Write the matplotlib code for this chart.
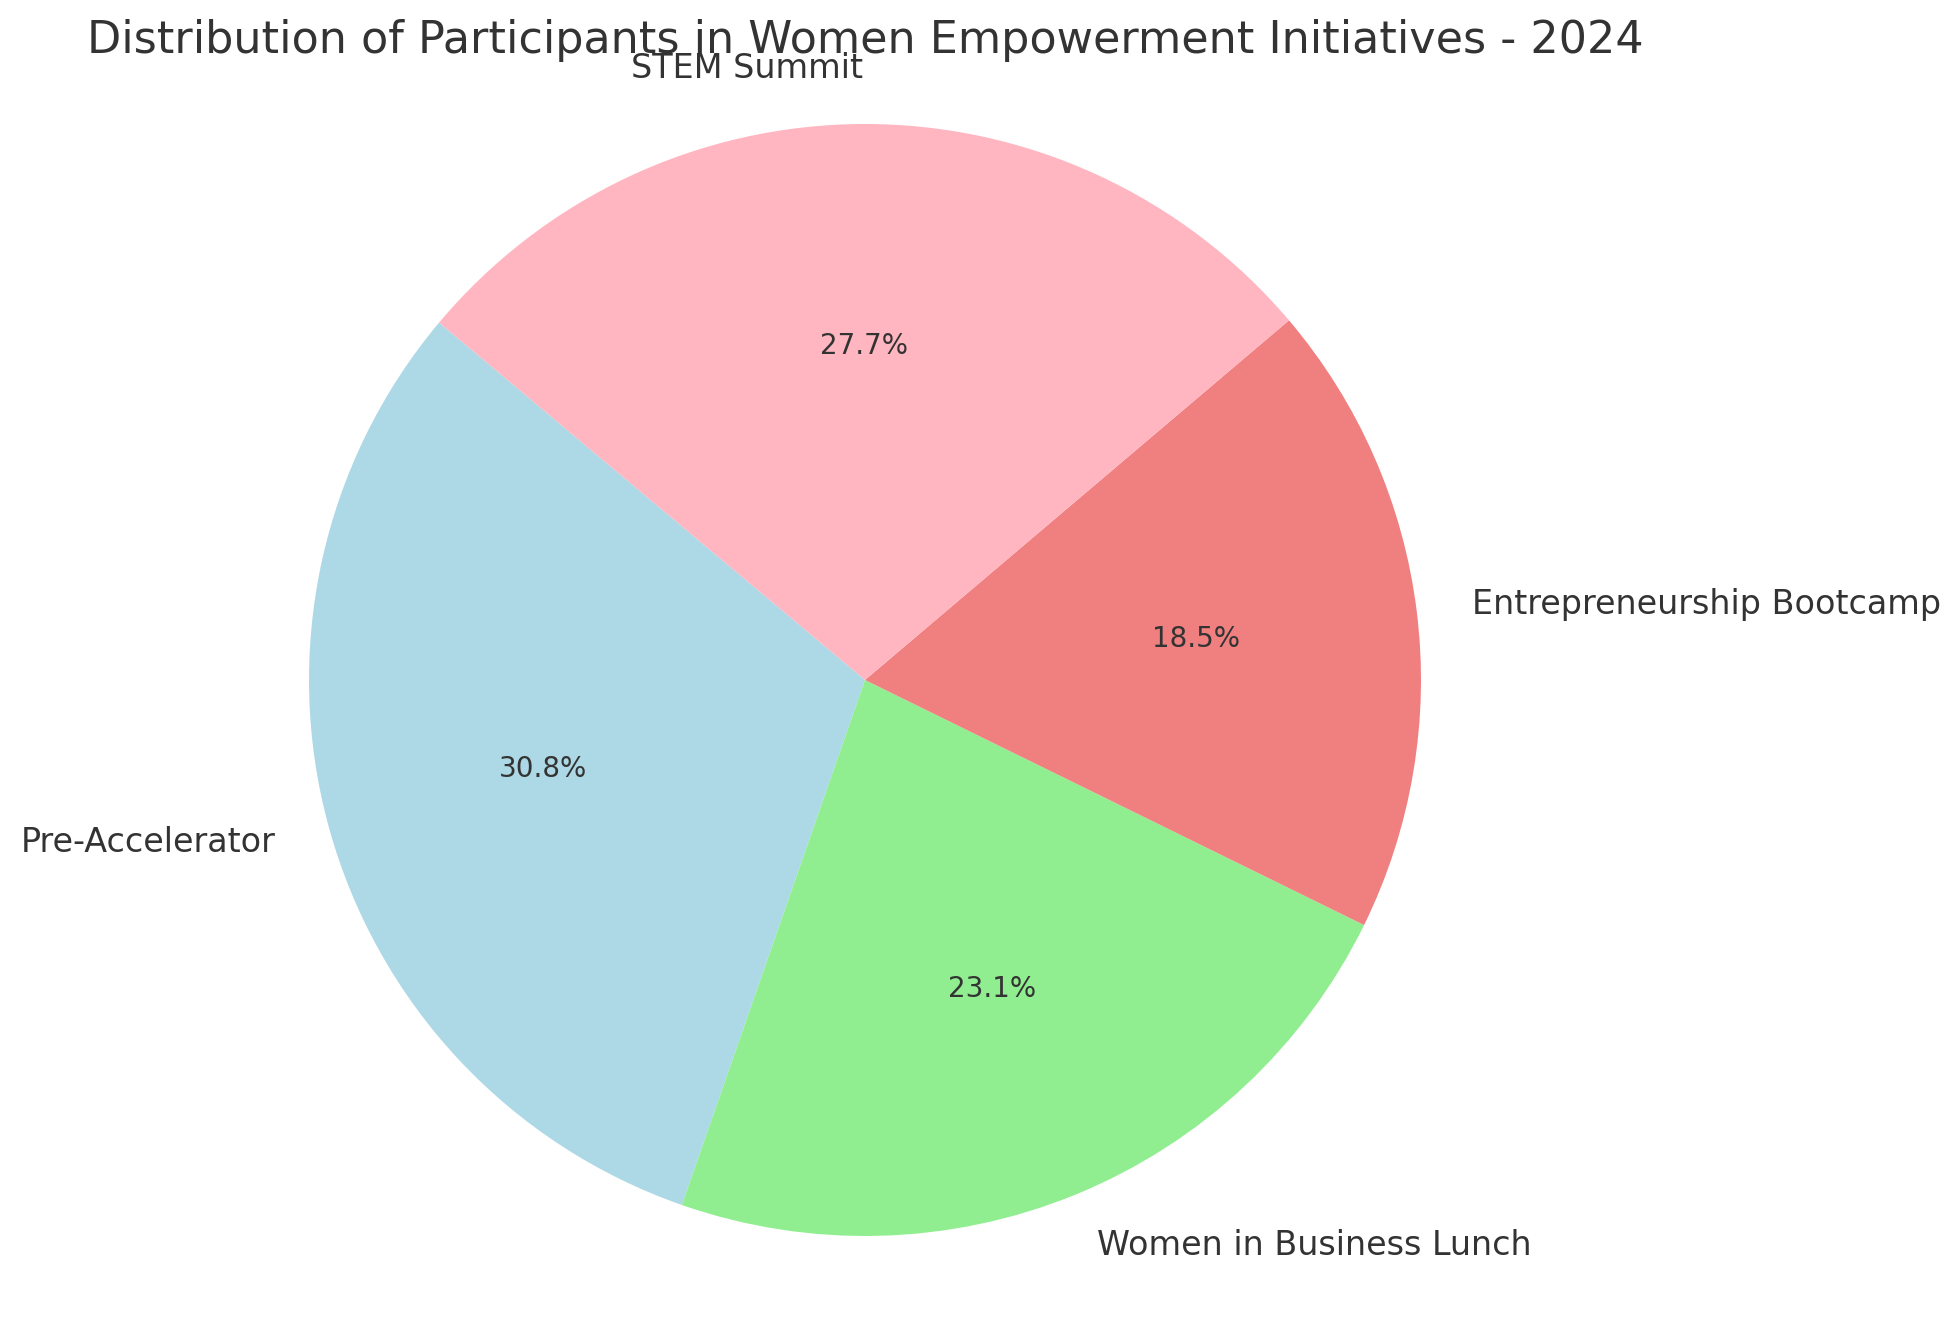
import matplotlib
matplotlib.use("Agg")
import matplotlib.pyplot as plt

categories = ["Pre-Accelerator", "Women in Business Lunch", "Entrepreneurship Bootcamp", "STEM Summit"]
participants = [20, 15, 12, 18]
colors = ["lightblue", "lightgreen", "lightcoral", "lightpink"]
title = "Distribution of Participants in Women Empowerment Initiatives - 2024"

plt.rcParams['font.family'] = ['DejaVu Sans']
txt = "#333333"

W, H = 1960, 1322
fig = plt.figure(figsize=(W / 200, H / 200), dpi=200)
ax = fig.add_axes([0, 0, 1, 1])
wedges, texts, autotexts = ax.pie(participants, labels=categories, colors=colors,
                                  autopct="%1.1f%%", startangle=140,
                                  textprops={"color": txt, "fontsize": 12})
for t in autotexts:
    t.set_fontsize(10)
    t.set_color(txt)

cx, cy, r = 865, 680, 556
ax.set_aspect("auto")
ax.set_xlim(-cx / r, (W - cx) / r)
ax.set_ylim(-(H - cy) / r, cy / r)
ax.axis("off")

fig.text(cx / W, 1 - 40 / H, title, ha="center", va="center", fontsize=16, color=txt)
fig.savefig("out.png", dpi=200, facecolor="white")
